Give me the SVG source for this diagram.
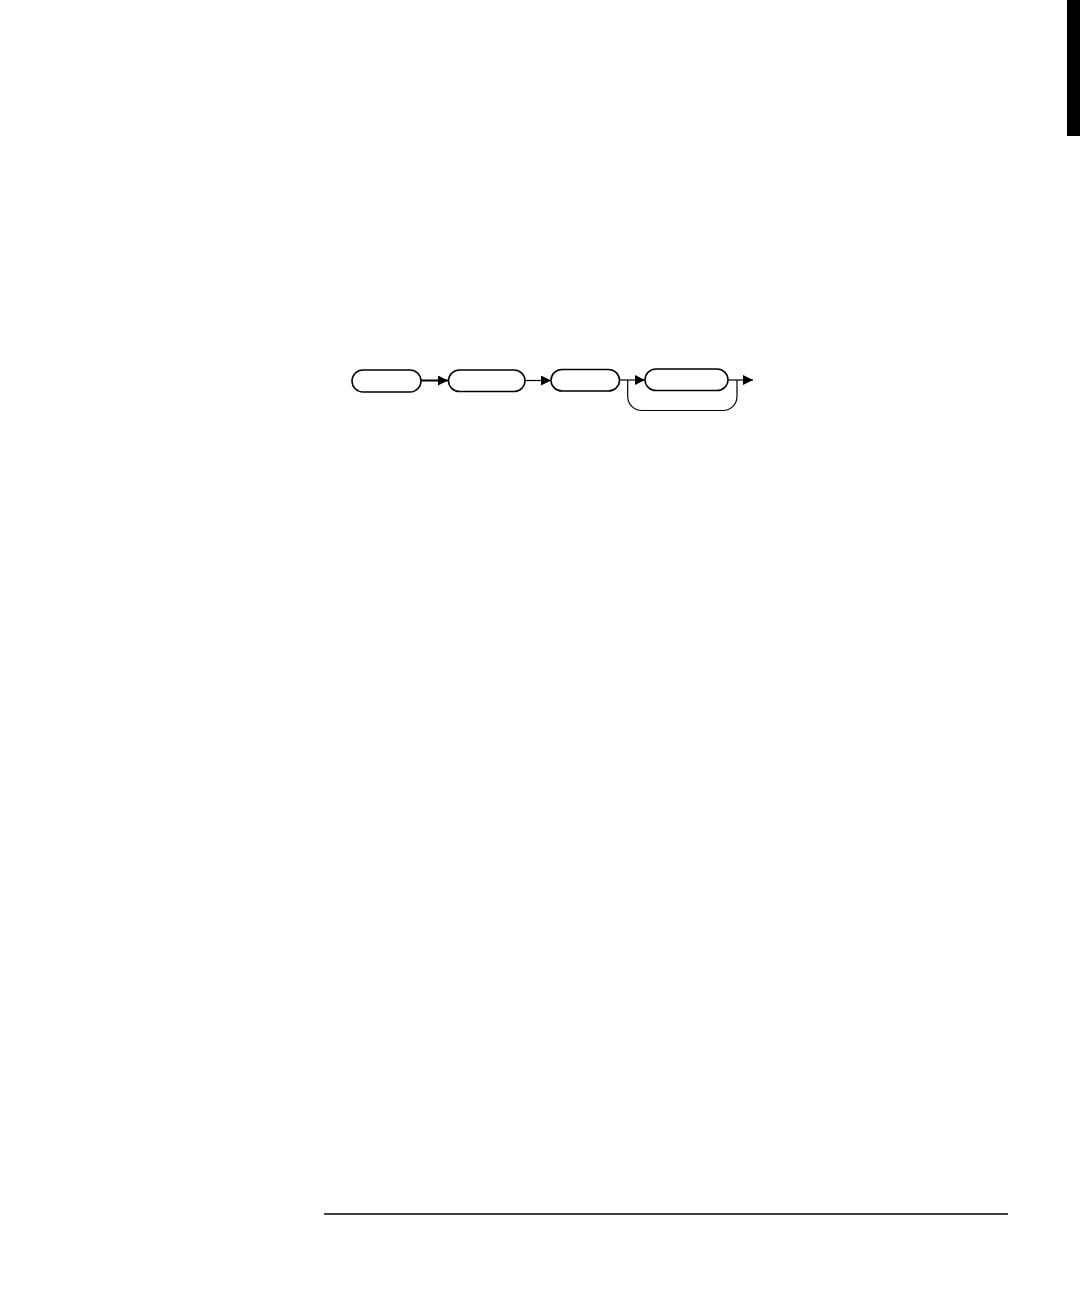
<svg xmlns="http://www.w3.org/2000/svg" width="1080" height="1296" viewBox="0 0 1080 1296">
<style>
.node{fill:#fff;stroke:#000;stroke-width:1.5}
.conn{fill:none;stroke:#000;stroke-width:1.2}
.thick{stroke-width:2}
</style>
<defs>
<marker id="arr" markerWidth="10" markerHeight="10" refX="10" refY="5" orient="auto" markerUnits="userSpaceOnUse">
<path d="M0,0 L10,5 L0,10 Z" fill="#000"/>
</marker>
</defs>
<rect width="1080" height="1296" fill="#fff"/>
<rect x="1067" y="0" width="13" height="136" fill="#000"/>
<g id="n1"><rect class="node" x="352" y="370" width="69" height="22" rx="11"/></g>
<g id="n2"><rect class="node" x="448.5" y="370" width="76.5" height="21.5" rx="11"/></g>
<g id="n3"><rect class="node" x="551" y="369.5" width="68.5" height="21.5" rx="11"/></g>
<g id="n4"><rect class="node" x="645" y="369" width="83" height="21.5" rx="11"/></g>
<g id="connectors">
<line class="conn thick" x1="421" y1="380.5" x2="448" y2="380.5" marker-end="url(#arr)"/>
<line class="conn" x1="525" y1="380.5" x2="551" y2="380.5" marker-end="url(#arr)"/>
<line class="conn" x1="619.5" y1="380" x2="645" y2="380" marker-end="url(#arr)"/>
<line class="conn" x1="728" y1="380" x2="753" y2="380" marker-end="url(#arr)"/>
<path class="conn" d="M627.7,380 V396.5 A14,14 0 0 0 641.7,410.5 H723 A14,14 0 0 0 737,396.5 V380"/>
</g>
<line x1="324" y1="1214" x2="1008" y2="1214" stroke="#000" stroke-width="1.5"/>
</svg>
